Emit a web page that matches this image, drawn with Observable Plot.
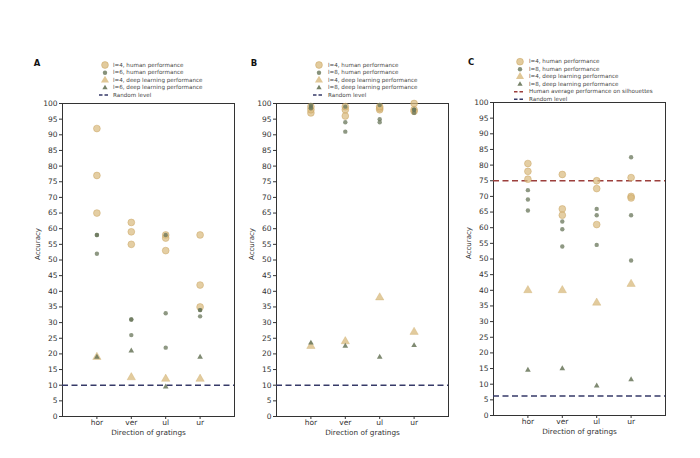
<!DOCTYPE html>
<html><head><meta charset="utf-8">
<script src="https://cdn.jsdelivr.net/npm/d3@7"></script>
<script src="https://cdn.jsdelivr.net/npm/@observablehq/plot@0.6"></script>
<style>
body{margin:0;background:#fff;}
#wrap{position:relative;width:700px;height:458px;overflow:hidden;font-family:"DejaVu Sans",sans-serif;background:#fff;}
.panel{position:absolute;}
#overlay{position:absolute;left:0;top:0;}
</style></head><body><div id="wrap"></div>
<script>
const cats = ["hor", "ver", "ul", "ur"];
const yTicks = [0,5,10,15,20,25,30,35,40,45,50,55,60,65,70,75,80,85,90,95,100];

// Panel A (l=4, l=6)
const aHuman4 = [[92,77,65],[62,59,55],[58,57,53],[58,42,35]];
const aHuman6 = [[58,58,52],[31,31,26],[58,33,22],[34,34,32]];
const aDeep4 = [19,12.5,12,12];
const aDeep6 = [19,21,9.5,19];
const aRandom = 10;

// Panel B (l=4, l=8)
const bHuman4 = [[97,98,99],[96,98,99],[98,98.5,99],[100,97.5,98]];
const bHuman8 = [[98.5,99,99.5],[91,94,99],[94,95,99.5],[97,98,98]];
const bDeep4 = [22.5,24,38,27];
const bDeep8 = [23.5,22.5,19,22.7];
const bRandom = 10;

// Panel C (l=4, l=8)
const cHuman4 = [[80.5,78,75.5],[77,66,64],[75,72.5,61],[76,70,69.5]];
const cHuman8 = [[72,69,65.5],[62,59.5,54],[66,64,54.5],[82.5,64,49.5]];
const cDeep4 = [40,40,36,42];
const cDeep8 = [14.5,15,9.5,11.5];
const cRandom = 6.25;
const cHumanAvg = 75;

const legendA = ["l=4, human performance","l=6, human performance","l=4, deep learning performance","l=6, deep learning performance","Random level"];
const legendB = ["l=4, human performance","l=8, human performance","l=4, deep learning performance","l=8, deep learning performance","Random level"];
const legendC = ["l=4, human performance","l=8, human performance","l=4, deep learning performance","l=8, deep learning performance","Human average performance on silhouettes","Random level"];

const TAN = "#d8b97c", TAN_S = "#c9a35e", DARK = "#687559", NAVY = "#363a68", RED = "#9c3f3c";

const flat = arr => arr.flatMap((vals, i) => vals.map(v => ({x: i + 1, y: v})));
const single = arr => arr.map((v, i) => ({x: i + 1, y: v}));

function panel(h4, h8, d4, d8, random, avg) {
  const marks = [
    Plot.frame({stroke: "#333", strokeWidth: 1}),
  ];
  if (avg != null) marks.push(Plot.ruleY([avg], {stroke: RED, strokeWidth: 1.6, strokeDasharray: "6,3.5"}));
  marks.push(Plot.ruleY([random], {stroke: NAVY, strokeWidth: 1.6, strokeDasharray: "6,3.5"}));
  marks.push(
    Plot.dot(flat(h4), {x: "x", y: "y", r: 3.4, fill: TAN, fillOpacity: 0.7, stroke: TAN_S, strokeOpacity: 0.6, strokeWidth: 0.8}),
    Plot.dot(flat(h8), {x: "x", y: "y", r: 2.2, fill: DARK, fillOpacity: 0.75}),
    Plot.dot(single(d4), {x: "x", y: "y", r: 3.1, symbol: "triangle", fill: TAN, fillOpacity: 0.75, stroke: TAN_S, strokeOpacity: 0.5, strokeWidth: 0.6}),
    Plot.dot(single(d8), {x: "x", y: "y", r: 2.1, symbol: "triangle", fill: DARK, fillOpacity: 0.85}),
    Plot.axisY(yTicks, {tickSize: 3, tickPadding: 2, fontSize: 7.5, label: null, stroke: "#333"}),
    Plot.axisX([1,2,3,4], {tickFormat: d => cats[d - 1], tickSize: 3, tickPadding: 0, fontSize: 7.5, label: null, stroke: "#333"}),
    Plot.text(["Accuracy"], {text: d => d, frameAnchor: "left", rotate: -90, dx: -25, fontSize: 7, fill: "#333"}),
    Plot.text(["Direction of gratings"], {text: d => d, frameAnchor: "bottom", dy: 18, fontSize: 7.3, fill: "#333"})
  );
  return Plot.plot({
    width: 220, height: 350,
    marginLeft: 40, marginRight: 8, marginTop: 10, marginBottom: 27,
    x: {domain: [0, 5], axis: null},
    y: {domain: [0, 100], axis: null},
    style: {fontFamily: "DejaVu Sans, sans-serif", color: "#333", background: "transparent"},
    marks
  });
}

const wrap = document.getElementById("wrap");
const specs = [
  {el: panel(aHuman4, aHuman6, aDeep4, aDeep6, aRandom, null), left: 22, top: 93},
  {el: panel(bHuman4, bHuman8, bDeep4, bDeep8, bRandom, null), left: 236, top: 93},
  {el: panel(cHuman4, cHuman8, cDeep4, cDeep8, cRandom, cHumanAvg), left: 453, top: 92}
];
for (const s of specs) {
  const d = document.createElement("div");
  d.className = "panel";
  d.style.left = s.left + "px";
  d.style.top = s.top + "px";
  d.appendChild(s.el);
  wrap.appendChild(d);
}

// overlay: panel letters and legends
const svg = d3.select(wrap).append("svg").attr("id", "overlay").attr("width", 700).attr("height", 458)
  .style("font-family", "DejaVu Sans, sans-serif").style("pointer-events", "none");

[["A", 37, 63], ["B", 254, 63], ["C", 471, 62]].forEach(([t, x, y]) => {
  svg.append("text").attr("x", x).attr("y", y).attr("text-anchor", "middle").attr("dominant-baseline", "middle")
    .attr("font-size", 8.5).attr("font-weight", "bold").attr("fill", "#111").text(t);
});

function legend(labels, mx, tx, ys, hasAvg) {
  const g = svg.append("g");
  labels.forEach((lab, i) => {
    const y = ys[i];
    if (i === 0) g.append("circle").attr("cx", mx).attr("cy", y).attr("r", 3.4).attr("fill", TAN).attr("fill-opacity", 0.75).attr("stroke", TAN_S).attr("stroke-opacity", 0.5);
    else if (i === 1) g.append("circle").attr("cx", mx).attr("cy", y).attr("r", 2.2).attr("fill", DARK).attr("fill-opacity", 0.8);
    else if (i === 2) g.append("path").attr("transform", `translate(${mx},${y})`).attr("d", d3.symbol(d3.symbolTriangle, 28)()).attr("fill", TAN).attr("fill-opacity", 0.8);
    else if (i === 3) g.append("path").attr("transform", `translate(${mx},${y})`).attr("d", d3.symbol(d3.symbolTriangle, 12)()).attr("fill", DARK).attr("fill-opacity", 0.9);
    else {
      const col = (hasAvg && i === 4) ? RED : NAVY;
      g.append("line").attr("x1", mx - 6).attr("x2", mx + 5).attr("y1", y).attr("y2", y).attr("stroke", col).attr("stroke-width", 1.5).attr("stroke-dasharray", "3.5,2");
    }
    g.append("text").attr("x", tx).attr("y", y).attr("dominant-baseline", "middle").attr("font-size", 5.6).attr("fill", "#444").text(lab);
  });
}
legend(legendA, 105, 113, [65, 72.7, 80.3, 87.8, 95], false);
legend(legendB, 319, 328, [65, 72.7, 80.3, 87.8, 95], false);
legend(legendC, 520, 529, [61.7, 69.2, 76.7, 84.2, 91.7, 99.3], true);
</script></body></html>
